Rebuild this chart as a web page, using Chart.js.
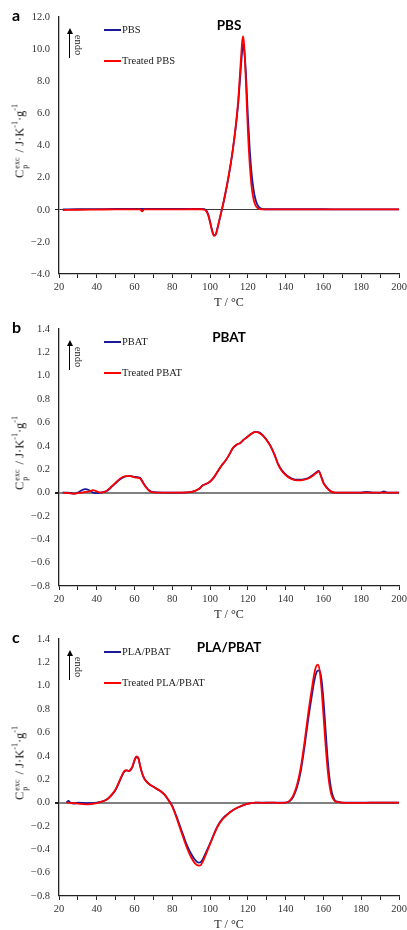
<!DOCTYPE html>
<html>
<head>
<meta charset="utf-8">
<script src="https://cdn.jsdelivr.net/npm/chart.js@4.4.1/dist/chart.umd.min.js"></script>
<style>
body { margin:0; width:407px; height:930px; overflow:hidden; background:#fff; position:relative; }
.panel { position:absolute; left:0; width:407px; height:310px; }
.panel canvas { position:absolute; left:0; top:0; }
.letter { position:absolute; left:12px; top:7px; font:bold 16px Lato, "Liberation Sans", sans-serif; line-height:16px; color:#000; }
.title { position:absolute; left:229px; top:25px; transform:translate(-50%,-50%); font:bold 13.5px Lato, "Liberation Sans", sans-serif; color:#000; white-space:nowrap; }
.leg { position:absolute; left:104px; font:10.5px "Liberation Serif", serif; color:#222; white-space:nowrap; line-height:12px; }
.leg span.sw { display:inline-block; width:17px; height:2px; vertical-align:middle; margin-right:1px; position:relative; top:-1px; }
.arrow { position:absolute; left:69px; top:34px; width:0; height:24px; border-left:1px solid #000; }
.arrow:before { content:""; position:absolute; left:-3.5px; top:-6px; border-left:3px solid transparent; border-right:3px solid transparent; border-bottom:6px solid #000; }
.endo { position:absolute; left:78px; top:45px; transform:translate(-50%,-50%) rotate(90deg); font:10.5px "Liberation Serif", serif; color:#222; }
.ytitle { position:absolute; left:20px; top:141px; transform:translate(-50%,-50%) rotate(-90deg); font:12.5px "Liberation Serif", serif; color:#222; white-space:nowrap; }
.ytitle sup { font-size:8px; vertical-align:6px; }
.stack { display:inline-flex; flex-direction:column; font-size:8px; line-height:8px; vertical-align:4px; margin-right:2px; margin-left:1px; }
</style>
</head>
<body>
<script>
// colours of the two curves
var colorUntreated = '#1a1a99';
var colorTreated = '#ff0000';

// panel a : PBS
var pbsTemps = [22, 30, 40, 50, 60, 63, 64, 65, 70, 80, 90, 95, 97, 98, 99, 100, 101, 102, 103, 104, 105, 106, 107, 108, 109, 110, 111, 112, 113, 114, 115, 116, 117, 117.5, 118, 119, 120, 121, 122, 123, 124, 125, 126, 127, 128, 130, 140, 150, 160, 170, 180, 190, 200];
var pbsUntreated = [0.02, 0.03, 0.04, 0.05, 0.05, 0.05, 0.05, 0.05, 0.05, 0.05, 0.06, 0.06, 0.04, -0.05, -0.3, -0.75, -1.25, -1.58, -1.52, -1.1, -0.6, -0.1, 0.4, 0.95, 1.55, 2.2, 2.9, 3.7, 4.6, 5.6, 6.8, 8.4, 9.9, 10.3, 10.0, 8.4, 5.8, 3.7, 2.2, 1.25, 0.65, 0.32, 0.15, 0.07, 0.04, 0.03, 0.03, 0.03, 0.03, 0.02, 0.02, 0.02, 0.02];
var pbsTreated = [-0.02, 0.0, 0.01, 0.02, 0.02, 0.02, -0.1, 0.02, 0.02, 0.02, 0.03, 0.03, 0.0, -0.1, -0.35, -0.8, -1.3, -1.62, -1.55, -1.1, -0.6, -0.1, 0.42, 1.0, 1.6, 2.25, 2.95, 3.75, 4.65, 5.7, 7.0, 8.8, 10.5, 10.8, 10.3, 7.8, 4.9, 2.8, 1.4, 0.65, 0.28, 0.12, 0.05, 0.03, 0.02, 0.02, 0.02, 0.02, 0.02, 0.02, 0.02, 0.02, 0.02];
var pbsTicks = [-4, -2, 0, 2, 4, 6, 8, 10, 12];

// panel b : PBAT
var pbatTemps = [22, 25, 28, 30, 32, 34, 36, 38, 40, 42, 44, 46, 48, 50, 52, 54, 56, 58, 60, 62, 63, 64, 66, 68, 70, 75, 80, 85, 90, 92, 94, 96, 98, 100, 102, 104, 106, 108, 110, 112, 114, 116, 118, 120, 122, 124, 126, 128, 130, 132, 134, 136, 138, 140, 142, 144, 146, 148, 150, 152, 154, 156, 157.5, 159, 160, 162, 164, 166, 170, 180, 183, 186, 190, 192, 194, 200];
var pbatUntreated = [0.0, 0.0, -0.01, 0.0, 0.02, 0.03, 0.02, 0.0, -0.005, 0.0, 0.005, 0.02, 0.05, 0.08, 0.11, 0.13, 0.14, 0.14, 0.135, 0.13, 0.125, 0.1, 0.05, 0.015, 0.003, 0.0, 0.0, 0.0, 0.005, 0.015, 0.03, 0.06, 0.075, 0.095, 0.13, 0.18, 0.23, 0.27, 0.32, 0.38, 0.41, 0.425, 0.455, 0.48, 0.505, 0.52, 0.515, 0.49, 0.45, 0.4, 0.33, 0.245, 0.19, 0.155, 0.13, 0.115, 0.11, 0.11, 0.115, 0.125, 0.145, 0.17, 0.185, 0.13, 0.085, 0.04, 0.01, 0.0, 0.0, 0.0, 0.005, 0.0, 0.0, 0.01, 0.0, 0.0];
var pbatTreated = [0.0, -0.005, -0.01, -0.005, 0.0, 0.005, 0.01, 0.02, 0.01, 0.0, 0.005, 0.025, 0.055, 0.085, 0.115, 0.135, 0.14, 0.14, 0.13, 0.125, 0.12, 0.095, 0.045, 0.012, 0.002, 0.0, 0.0, 0.0, 0.005, 0.015, 0.03, 0.06, 0.075, 0.095, 0.13, 0.18, 0.23, 0.27, 0.32, 0.38, 0.41, 0.425, 0.455, 0.48, 0.505, 0.52, 0.51, 0.485, 0.445, 0.395, 0.325, 0.24, 0.185, 0.15, 0.125, 0.11, 0.105, 0.105, 0.11, 0.12, 0.14, 0.165, 0.18, 0.125, 0.08, 0.035, 0.008, 0.0, 0.0, 0.0, 0.0, 0.0, 0.0, 0.0, 0.0, 0.0];
var pbatTicks = [-0.8, -0.6, -0.4, -0.2, 0, 0.2, 0.4, 0.6, 0.8, 1.0, 1.2, 1.4];

// panel c : PLA/PBAT
var blendTemps = [24, 25, 26, 28, 30, 35, 40, 42, 44, 46, 48, 50, 52, 54, 55, 56, 57, 58, 59, 60, 61, 62, 63, 64, 65, 66, 68, 70, 72, 74, 76, 78, 80, 82, 84, 86, 88, 90, 92, 94, 95, 96, 98, 100, 102, 104, 106, 108, 110, 112, 115, 118, 121, 124, 128, 132, 136, 140, 142, 144, 146, 148, 150, 152, 154, 155, 156, 157, 158, 159, 160, 161, 162, 163, 164, 165, 166, 168, 170, 180, 190, 200];
var blendUntreated = [0.0, 0.015, 0.0, -0.01, 0.0, -0.005, 0.0, 0.005, 0.015, 0.035, 0.065, 0.11, 0.18, 0.25, 0.27, 0.275, 0.27, 0.28, 0.31, 0.36, 0.39, 0.38, 0.31, 0.25, 0.21, 0.185, 0.155, 0.135, 0.115, 0.095, 0.065, 0.02, -0.03, -0.11, -0.2, -0.29, -0.375, -0.44, -0.49, -0.515, -0.51, -0.49, -0.42, -0.35, -0.27, -0.2, -0.15, -0.115, -0.09, -0.065, -0.04, -0.02, -0.008, 0.0, 0.0, 0.0, 0.0, 0.0, 0.01, 0.05, 0.13, 0.27, 0.48, 0.72, 0.93, 1.03, 1.1, 1.13, 1.13, 1.05, 0.88, 0.65, 0.42, 0.24, 0.12, 0.055, 0.02, 0.005, 0.0, 0.0, 0.0, 0.0];
var blendTreated = [0.0, 0.0, -0.005, -0.005, -0.01, -0.015, -0.005, 0.005, 0.015, 0.035, 0.07, 0.115, 0.185, 0.255, 0.275, 0.275, 0.27, 0.285, 0.315, 0.365, 0.395, 0.38, 0.31, 0.25, 0.21, 0.185, 0.155, 0.135, 0.115, 0.095, 0.065, 0.02, -0.035, -0.12, -0.215, -0.31, -0.4, -0.47, -0.52, -0.54, -0.535, -0.51, -0.435, -0.355, -0.275, -0.205, -0.155, -0.12, -0.09, -0.065, -0.04, -0.02, -0.008, 0.0, -0.003, 0.0, -0.003, 0.0, 0.015, 0.06, 0.15, 0.3, 0.52, 0.77, 0.99, 1.09, 1.16, 1.18, 1.13, 0.97, 0.75, 0.52, 0.32, 0.17, 0.08, 0.035, 0.012, 0.003, 0.0, -0.003, 0.0, 0.0];
var blendTicks = [-0.8, -0.6, -0.4, -0.2, 0, 0.2, 0.4, 0.6, 0.8, 1.0, 1.2, 1.4];

var tempTicks = [20, 40, 60, 80, 100, 120, 140, 160, 180, 200];

var panels = [
    { letter: 'a', title: 'PBS', names: ['PBS', 'Treated PBS'], top: 0,
      temps: pbsTemps, blue: pbsUntreated, red: pbsTreated, ticks: pbsTicks, step: 2, zero: ['#3a3a3a', 1] },
    { letter: 'b', title: 'PBAT', names: ['PBAT', 'Treated PBAT'], top: 312,
      temps: pbatTemps, blue: pbatUntreated, red: pbatTreated, ticks: pbatTicks, step: 0.2, zero: ['#808080', 2] },
    { letter: 'c', title: 'PLA/PBAT', names: ['PLA/PBAT', 'Treated PLA/PBAT'], top: 622,
      temps: blendTemps, blue: blendUntreated, red: blendTreated, ticks: blendTicks, step: 0.2, zero: ['#808080', 2] }
];

function toPoints(xs, ys) {
    return xs.map(function (x, i) { return { x: x, y: ys[i] }; });
}

function fmt(v) {
    if (Math.abs(v) < 1e-9) return '0.0';
    return v < 0 ? '\u2212' + Math.abs(v).toFixed(1) : v.toFixed(1);
}

panels.forEach(function (p, n) {
    var div = document.createElement('div');
    div.className = 'panel';
    div.style.top = p.top + 'px';
    div.innerHTML =
        '<canvas id="c' + n + '" width="407" height="310"></canvas>' +
        '<div class="letter">' + p.letter + '</div>' +
        '<div class="title">' + p.title + '</div>' +
        '<div class="leg" style="top:24px"><span class="sw" style="background:' + colorUntreated + '"></span>' + p.names[0] + '</div>' +
        '<div class="leg" style="top:55px"><span class="sw" style="background:' + colorTreated + '"></span>' + p.names[1] + '</div>' +
        '<div class="arrow"></div>' +
        '<div class="endo">endo</div>' +
        '<div class="ytitle">C<span class="stack"><span>exc</span><span>p</span></span> / J\u00b7K<sup>-1</sup>\u00b7g<sup>-1</sup></div>';
    document.body.appendChild(div);

    var ctx = document.getElementById('c' + n);
    new Chart(ctx, {
        type: 'line',
        data: {
            datasets: [{
                label: p.names[1],
                data: toPoints(p.temps, p.red),
                borderColor: colorTreated,
                borderWidth: 1.8,
                order: 1
            }, {
                label: p.names[0],
                data: toPoints(p.temps, p.blue),
                borderColor: colorUntreated,
                borderWidth: 1.8,
                order: 2
            }]
        },
        options: {
            responsive: false,
            animation: false,
            devicePixelRatio: 1,
            events: [],
            layout: { padding: { top: 17, right: 8, left: 0, bottom: 0 } },
            elements: {
                point: { radius: 0 },
                line: { cubicInterpolationMode: 'monotone', fill: false }
            },
            plugins: { legend: { display: false }, tooltip: { enabled: false } },
            scales: {
                x: {
                    type: 'linear',
                    min: tempTicks[0],
                    max: tempTicks[tempTicks.length - 1],
                    afterFit: function (s) { s.height = 36; s.paddingRight = 0; s.paddingLeft = 0; },
                    border: { color: '#222', width: 1.3 },
                    grid: { drawOnChartArea: false, drawTicks: true, tickLength: 4, tickColor: '#222' },
                    ticks: {
                        stepSize: 10, autoSkip: false, maxRotation: 0, padding: 3,
                        color: '#333', font: { family: 'Liberation Serif', size: 10.5 },
                        callback: function (v) { return tempTicks.indexOf(v) >= 0 ? String(v) : ''; }
                    },
                    title: {
                        display: true, text: 'T / \u00b0C', color: '#222',
                        font: { family: 'Liberation Serif', size: 12 }, padding: 0
                    }
                },
                y: {
                    min: p.ticks[0],
                    max: p.ticks[p.ticks.length - 1],
                    afterFit: function (s) { s.width = 59; },
                    border: { color: '#222', width: 1.3 },
                    grid: {
                        drawTicks: true, tickLength: 4, tickColor: '#222',
                        color: function (c) { return c.tick && Math.abs(c.tick.value) < 1e-9 ? p.zero[0] : 'rgba(0,0,0,0)'; },
                        lineWidth: function (c) { return c.tick && Math.abs(c.tick.value) < 1e-9 ? p.zero[1] : 0; }
                    },
                    ticks: {
                        stepSize: p.step, autoSkip: false, padding: 5,
                        color: '#333', font: { family: 'Liberation Serif', size: 10.5 },
                        callback: function (v) { return fmt(v); }
                    }
                }
            }
        }
    });
});
</script>
</body>
</html>
